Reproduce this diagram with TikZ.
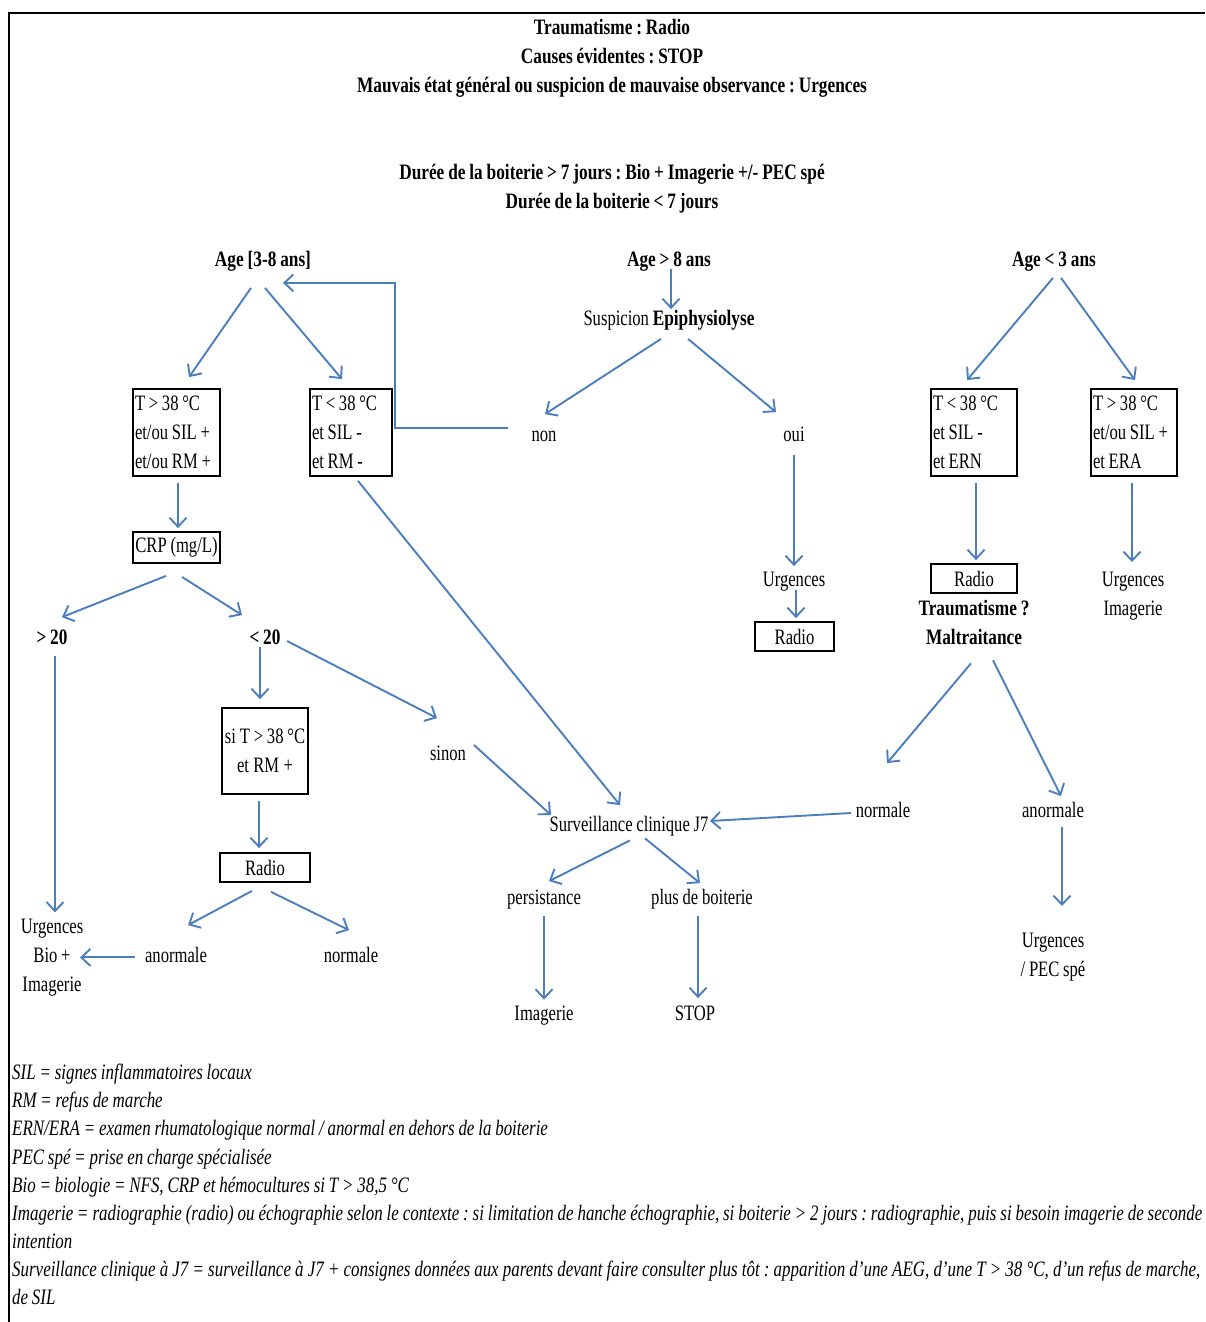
\documentclass[tikz,border=0pt]{standalone}
\usepackage{fontspec}
\setmainfont{Liberation Serif}[WordSpace=0.9,
  UprightFeatures={FakeStretch=0.755},
  BoldFeatures={FakeStretch=0.785},
  ItalicFeatures={FakeStretch=0.77}]
\usepackage{xcolor}
\usepackage{tikz}
\usetikzlibrary{arrows.meta}
\definecolor{bleu}{RGB}{74,126,190}
\newcommand\espacenormal{\spaceskip=0pt\relax\xspaceskip=0pt\relax}
\frenchspacing

\begin{document}
\begin{tikzpicture}[
    x=1pt, y=-1pt,
    font=\fontsize{22}{29}\selectfont,
    etiq/.style={inner sep=0pt, text height=17pt, text depth=2.4pt},
    gras/.style={etiq, font=\fontsize{22}{29}\selectfont\bfseries},
    bloc/.style={inner sep=0pt, align=center},
    boite/.style={draw, line width=1.8pt, inner sep=0pt, align=center,
                  execute at begin node=\espacenormal},
    cadre/.style={draw, line width=1.8pt, inner xsep=2pt, inner ysep=0pt,
                  align=left, minimum height=87pt,
                  execute at begin node=\espacenormal},
    note/.style={etiq, anchor=west, font=\fontsize{22}{29}\selectfont\itshape},
    fleche/.style={draw=bleu, line width=1.9pt, -{Straight Barb[length=9pt,width=17pt]}}
  ]
    \useasboundingbox (0,0) rectangle (1205,1322);
    \draw[line width=2pt] (8,13) -- (1205,13);
    \draw[line width=2pt] (9,12) -- (9,1322);

    \node[bloc, font=\fontsize{22}{29}\selectfont\bfseries] (entete) at (612,58)
      {Traumatisme : Radio\\Causes évidentes : STOP\\Mauvais état général ou suspicion de mauvaise observance : Urgences};
    \node[bloc, font=\fontsize{22}{29}\selectfont\bfseries] (duree) at (612,188.5)
      {Durée de la boiterie > 7 jours : Bio + Imagerie +/- PEC spé\\Durée de la boiterie < 7 jours};

    \node[gras] (age38) at (263,259) {Age [3-8 ans]};
    \node[gras] (age8) at (669,259) {Age > 8 ans};
    \node[gras] (age3) at (1054,259) {Age < 3 ans};

    \node[cadre, text width=83pt] (boxA) at (176.5,432.5) {T > 38 °C\\et/ou SIL +\\et/ou RM +};
    \node[cadre, text width=78pt] (boxB) at (351,432.5) {T < 38 °C\\et SIL -\\et RM -};
    \node[etiq] (susp) at (669,318) {Suspicion \textbf{Epiphysiolyse}};
    \node[etiq] (non) at (544,434) {non};
    \node[etiq] (oui) at (794,434) {oui};
    \node[cadre, text width=82pt] (boxC) at (974,432.5) {T < 38 °C\\et SIL -\\et ERN};
    \node[cadre, text width=82pt] (boxD) at (1134,432.5) {T > 38 °C\\et/ou SIL +\\et ERA};

    \node[boite, minimum width=87pt, minimum height=31pt] (crp) at (176.5,547.5) {CRP (mg/L)};
    \node[gras] (gt20) at (52,637) {> 20};
    \node[gras] (lt20) at (265,637) {< 20};
    \node[boite, text width=86pt, minimum height=86pt] (siT) at (265,751) {si T > 38 °C\\et RM +};
    \node[boite, minimum width=90pt, minimum height=29pt] (radio1) at (265,867.5) {Radio};
    \node[etiq] (sinon) at (448,753) {sinon};
    \node[bloc] (urg1) at (52,957.4) {Urgences\\Bio +\\Imagerie};
    \node[etiq] (anorm1) at (176,955) {anormale};
    \node[etiq] (norm1) at (351,955) {normale};

    \node[etiq] (urg2) at (794,579) {Urgences};
    \node[boite, minimum width=79pt, minimum height=29pt] (radio2) at (794.5,636.5) {Radio};
    \node[boite, minimum width=86pt, minimum height=29pt] (radio3) at (974,578.5) {Radio};
    \node[bloc, font=\fontsize{22}{29}\selectfont\bfseries] (traum) at (974,622.3) {Traumatisme ?\\Maltraitance};
    \node[bloc] (urg3) at (1133,596) {Urgences\\Imagerie};
    \node[etiq] (norm2) at (883,810) {normale};
    \node[etiq] (anorm2) at (1053,810) {anormale};
    \node[bloc] (urg4) at (1053,957) {Urgences\\/ PEC spé};

    \node[etiq] (surv) at (629,824) {Surveillance clinique J7};
    \node[etiq] (pers) at (544,897) {persistance};
    \node[etiq] (plus) at (702,897) {plus de boiterie};
    \node[etiq] (imag) at (544,1013) {Imagerie};
    \node[etiq] (stop) at (695,1013) {STOP};

    \draw[fleche] ([shift={(-12,19)}]age38.south) -- ([shift={(12.5,-11)}]boxA.north);
    \draw[fleche] ([shift={(2,19)}]age38.south) -- ([shift={(-9,-9)}]boxB.north);
    \draw[fleche] ([shift={(-36,-6)}]non.center) -- ++(-113,0) |- ([shift={(20,14)}]age38.south);
    \draw[fleche] ([shift={(2,0)}]age8.south) -- ([shift={(2,1)}]susp.north);
    \draw[fleche] ([shift={(-8,11)}]susp.south) -- ([shift={(1,-10)}]non.north);
    \draw[fleche] ([shift={(19,11)}]susp.south) -- ([shift={(-18,-12)}]oui.north);
    \draw[fleche] ([shift={(0,11)}]oui.south) -- ([shift={(0,-3)}]urg2.north);
    \draw[fleche] ([shift={(2,1)}]urg2.south) -- ([shift={(1.5,-3)}]radio2.north);
    \draw[fleche] ([shift={(-1,9)}]age3.south) -- ([shift={(-7,-8)}]boxC.north);
    \draw[fleche] ([shift={(7,9)}]age3.south) -- ([shift={(1,-8)}]boxD.north);
    \draw[fleche] ([shift={(2,6)}]boxC.south) -- ([shift={(2,-3)}]radio3.north);
    \draw[fleche] ([shift={(-2,6)}]boxD.south) -- ([shift={(-1,-34)}]urg3.center);
    \draw[fleche] ([shift={(-3,41)}]traum.center) -- ([shift={(4,-37)}]norm2.north);
    \draw[fleche] ([shift={(19,38)}]traum.center) -- ([shift={(8,-4)}]anorm2.north);
    \draw[fleche] ([shift={(9,7)}]anorm2.south) -- ([shift={(9,-51)}]urg4.center);
    \draw[fleche] ([shift={(-32,3)}]norm2.center) -- ([shift={(81,-3)}]surv.center);
    \draw[fleche] ([shift={(7,4)}]boxB.south) -- ([shift={(-9,-9)}]surv.north);
    \draw[fleche] ([shift={(1.5,6)}]boxA.south) -- ([shift={(1.5,-3)}]crp.north);
    \draw[fleche] ([shift={(-10.5,12)}]crp.south) -- ([shift={(10,-10)}]gt20.north);
    \draw[fleche] ([shift={(5.5,13)}]crp.south) -- ([shift={(-23,-12)}]lt20.north);
    \draw[fleche] ([shift={(3,9)}]gt20.south) -- ([shift={(3,-45)}]urg1.center);
    \draw[fleche] ([shift={(-5,0)}]lt20.south) -- ([shift={(-5,-8)}]siT.north);
    \draw[fleche] ([shift={(22,4)}]lt20.center) -- ([shift={(-11,-25)}]sinon.north);
    \draw[fleche] ([shift={(26,-8)}]sinon.center) -- ([shift={(-78,-9)}]surv.center);
    \draw[fleche] ([shift={(-6,6)}]siT.south) -- ([shift={(-6,-4)}]radio1.north);
    \draw[fleche] ([shift={(-13,8)}]radio1.south) -- ([shift={(12,-20)}]anorm1.north);
    \draw[fleche] ([shift={(6,9)}]radio1.south) -- ([shift={(-2,-15)}]norm1.north);
    \draw[fleche] ([shift={(-41,2.4)}]anorm1.center) -- ([shift={(28,0)}]urg1.center);
    \draw[fleche] ([shift={(1,6.5)}]surv.south) -- ([shift={(5,-6)}]pers.north);
    \draw[fleche] ([shift={(16,4.5)}]surv.south) -- ([shift={(-2,-4)}]plus.north);
    \draw[fleche] ([shift={(0,9.5)}]pers.south) -- ([shift={(0,-3.5)}]imag.north);
    \draw[fleche] ([shift={(-4,9.5)}]plus.south) -- ([shift={(3,-5)}]stop.north);

    \node[note] (n1) at (12,1072) {SIL = signes inflammatoires locaux};
    \node[note] (n2) at (12,1100) {RM = refus de marche};
    \node[note] (n3) at (12,1128) {ERN/ERA = examen rhumatologique normal / anormal en dehors de la boiterie};
    \node[note] (n4) at (12,1157) {PEC spé = prise en charge spécialisée};
    \node[note] (n5) at (12,1185) {Bio = biologie = NFS, CRP et hémocultures si T > 38,5 °C};
    \node[note] (n6) at (12,1213) {\makebox[1190pt][s]{Imagerie = radiographie (radio) ou échographie selon le contexte : si limitation de hanche échographie, si boiterie > 2 jours : radiographie, puis si besoin imagerie de seconde}};
    \node[note] (n7) at (12,1241) {intention};
    \node[note] (n8) at (12,1269) {\makebox[1188pt][s]{Surveillance clinique à J7 = surveillance à J7 + consignes données aux parents devant faire consulter plus tôt : apparition d’une AEG, d’une T > 38 °C, d’un refus de marche,}};
    \node[note] (n9) at (12,1297) {de SIL};
  \end{tikzpicture}
\end{document}
